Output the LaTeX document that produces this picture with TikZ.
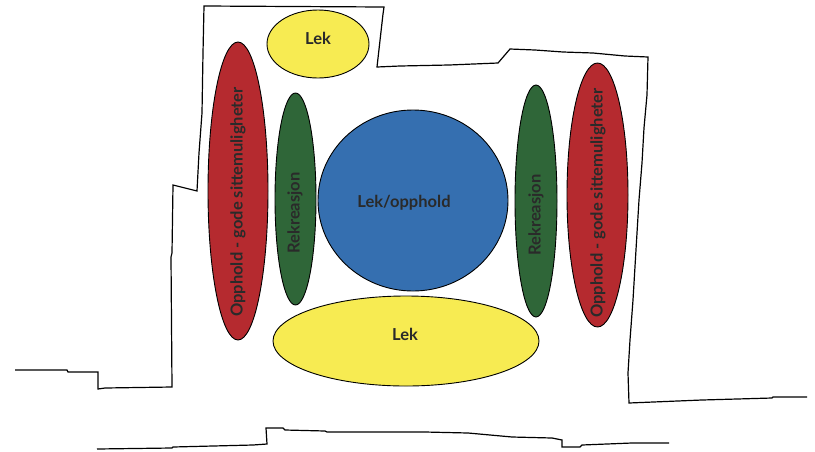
\documentclass[tikz,border=0pt]{standalone}
\usepackage{fontspec}
\setmainfont{Lato}
\usetikzlibrary{shapes.geometric}
\definecolor{zred}{HTML}{B52A2F}
\definecolor{zgreen}{HTML}{2F6638}
\definecolor{zblue}{HTML}{356FB0}
\definecolor{zyellow}{HTML}{F7EB52}
\definecolor{ztext}{HTML}{2A2A2A}
\tikzset{
  zone/.style={ellipse, draw=black, line width=0.9pt, inner sep=0pt},
  lbl/.style={text=ztext, font=\bfseries\fontsize{16.5}{16.5}\selectfont, inner sep=0pt},
  plan/.style={draw=black, line width=1.2pt, line join=miter}
}
\begin{document}
\begin{tikzpicture}[x=1pt,y=-1pt]
\useasboundingbox (0,0) rectangle (815,451);
% building outline
\draw[plan] (15,370) -- (67,370) -- (68,372) -- (98,372) -- (98,389) -- (105,388) -- (172,387)
  -- (171,257) -- (172,253) -- (173,185) -- (197,191) -- (199,153) -- (202,113) -- (203,53) -- (204,6)
  -- (384,7) -- (383,14) -- (377,67) -- (400,66) -- (449,65) -- (498,63) -- (510,49) -- (535,50)
  -- (563,52) -- (593,53) -- (625,56) -- (648,57) -- (647,95) -- (644,128) -- (642,163) -- (639,200)
  -- (637,233) -- (633,300) -- (630,340) -- (628,373) -- (629,403) -- (702,400) -- (772,398)
  -- (773,397) -- (807,397);
% street
\draw[plan] (97,449) -- (172,448) -- (173,447) -- (253,445) -- (267,444) -- (266,428) -- (283,428)
  -- (285,430) -- (325,431) -- (327,432) -- (425,432) -- (468,433) -- (512,437) -- (552,438)
  -- (562,440) -- (562,447) -- (580,447) -- (582,445) -- (632,443) -- (669,443);
% zones
\node[zone, fill=zyellow, minimum width=102pt, minimum height=68pt] (lektop) at (318,44) {};
\node[zone, fill=zred, minimum width=60pt, minimum height=298pt] (redl) at (238,191) {};
\node[zone, fill=zgreen, minimum width=41pt, minimum height=212pt] (greenl) at (295.5,199) {};
\node[zone, fill=zblue, minimum width=190pt, minimum height=181pt] (blue) at (413,200.5) {};
\node[zone, fill=zgreen, minimum width=42pt, minimum height=232pt] (greenr) at (536,201) {};
\node[zone, fill=zred, minimum width=61pt, minimum height=264pt] (redr) at (597.5,195) {};
\node[zone, fill=zyellow, minimum width=266pt, minimum height=90pt] (lekbot) at (406,341) {};
% labels
\node[lbl] (tlektop) at (318,38) {Lek};
\node[lbl] (tblue) at (404,203) {Lek/opphold};
\node[lbl] (tlekbot) at (405,334) {Lek};
\node[lbl, rotate=90] (tgreenl) at (295,213) {Rekreasjon};
\node[lbl, rotate=90] (tgreenr) at (536,215) {Rekreasjon};
\node[lbl, rotate=90] (tredl) at (238,202) {Opphold - gode sittemuligheter};
\node[lbl, rotate=90] (tredr) at (598,203) {Opphold - gode sittemuligheter};
\end{tikzpicture}
\end{document}
